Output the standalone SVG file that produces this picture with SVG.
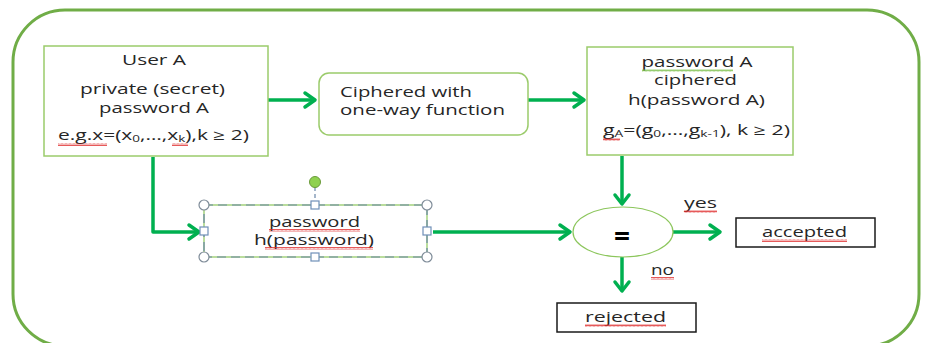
<svg xmlns="http://www.w3.org/2000/svg" width="928" height="343" viewBox="0 0 928 343">
<style>
text{font-family:"Open Sans","Liberation Sans",sans-serif;font-size:14px;fill:#262626}
.c{text-anchor:middle}
.box{fill:#fff;stroke:#9bcb6b;stroke-width:1.5}
.bk{fill:#fff;stroke:#1a1a1a;stroke-width:1.5}
.ar{fill:none;stroke:#00b050;stroke-width:3.5;stroke-linejoin:round}
.hd{fill:none;stroke:#00b050;stroke-width:3.5;stroke-linecap:round;stroke-linejoin:round}
.hc{fill:#fff;stroke:#7f8c99;stroke-width:1.2}
.hs{fill:#fff;stroke:#6f8fb8;stroke-width:1.2}
.sq{fill:url(#wr)}
.sg{fill:url(#wg)}
</style>
<defs>
<pattern id="wr" width="4" height="3" patternUnits="userSpaceOnUse"><path d="M0 2.5 L1 0.5 L2 2.5 L3 0.5 L4 2.5" fill="none" stroke="#e03030" stroke-width="0.8"/></pattern>
<pattern id="wg" width="4" height="3" patternUnits="userSpaceOnUse"><path d="M0 2.5 L1 0.5 L2 2.5 L3 0.5 L4 2.5" fill="none" stroke="#7cc04b" stroke-width="0.8"/></pattern>
</defs>
<rect x="0" y="0" width="928" height="343" fill="#fff"/>
<rect id="frame" x="13" y="10" width="906" height="336" rx="52" ry="52" fill="none" stroke="#70ad47" stroke-width="3"/>

<g id="connectors">
<path class="ar" d="M268 100 L314 100"/><path class="hd" d="M305 93 L315 100 L305 107"/>
<path class="ar" d="M528 100 L583 100"/><path class="hd" d="M574 93 L584 100 L574 107"/>
<path class="ar" d="M622 156 L622 203"/><path class="hd" d="M615 195 L622 204 L629 195"/>
<path class="ar" d="M153 157 L153 232 L198 232"/><path class="hd" d="M189 225 L199 232 L189 239"/>
<path class="ar" d="M433 232 L569 232"/><path class="hd" d="M560 225 L570 232 L560 239"/>
<path class="ar" d="M673 232 L719 232"/><path class="hd" d="M710 225 L720 232 L710 239"/>
<path class="ar" d="M622 257 L622 290"/><path class="hd" d="M615 282 L622 291 L629 282"/>
<text x="700.5" y="208" class="c" textLength="33" lengthAdjust="spacingAndGlyphs">yes</text><rect class="sq" x="684" y="210" width="33" height="3"/>
<text x="662.5" y="275" class="c" textLength="23" lengthAdjust="spacingAndGlyphs">no</text><rect class="sq" x="651" y="277" width="23" height="3"/>
</g>

<g id="userA">
<rect class="box" x="44" y="46" width="224" height="110"/>
<text x="154" y="65" class="c" textLength="64" lengthAdjust="spacingAndGlyphs">User A</text>
<text x="152.5" y="94" class="c" textLength="145" lengthAdjust="spacingAndGlyphs">private (secret)</text>
<text x="154" y="113" class="c" textLength="110" lengthAdjust="spacingAndGlyphs">password A</text>
<text x="153.5" y="140" class="c" textLength="191" lengthAdjust="spacingAndGlyphs">e.g.x=(x<tspan font-size="9" dy="2">0</tspan><tspan dy="-2">,…,x</tspan><tspan font-size="9" dy="2">k</tspan><tspan dy="-2">),k ≥ 2)</tspan></text>
<rect class="sq" x="58" y="143" width="49" height="3"/>
<rect class="sq" x="172" y="143" width="16" height="3"/>
</g>

<g id="cipher">
<rect class="box" x="319" y="73" width="209" height="62" rx="10"/>
<text x="340" y="97" textLength="132" lengthAdjust="spacingAndGlyphs">Ciphered with</text>
<text x="340" y="115" textLength="165" lengthAdjust="spacingAndGlyphs">one-way function</text>
</g>

<g id="passwordA">
<rect class="box" x="587" y="47" width="206" height="108"/>
<text x="697" y="67" class="c" textLength="111" lengthAdjust="spacingAndGlyphs">password A</text>
<rect class="sg" x="642" y="69" width="91" height="3"/>
<text x="695.5" y="85" class="c" textLength="83" lengthAdjust="spacingAndGlyphs">ciphered</text>
<text x="696.5" y="105" class="c" textLength="137" lengthAdjust="spacingAndGlyphs">h(password A)</text>
<text x="696.5" y="135" class="c" textLength="187" lengthAdjust="spacingAndGlyphs">g<tspan font-size="9" dy="2">A</tspan><tspan dy="-2">=(g</tspan><tspan font-size="9" dy="2">0</tspan><tspan dy="-2">,…,g</tspan><tspan font-size="9" dy="2">k-1</tspan><tspan dy="-2">), k ≥ 2)</tspan></text>
<rect class="sq" x="603" y="138" width="17" height="3"/>
</g>

<g id="password">
<rect x="204" y="205" width="223" height="52" fill="#fff" stroke="#8cc65c" stroke-width="1.2"/>
<rect x="204" y="205" width="223" height="52" fill="none" stroke="#6a86a8" stroke-width="1.2" stroke-dasharray="9,5"/>
<line x1="315" y1="187" x2="315" y2="201" stroke="#6a86a8" stroke-width="1.2" stroke-dasharray="4,3"/>
<circle cx="315" cy="182" r="5.5" fill="#8fd14f" stroke="#6a9a3a" stroke-width="1"/>
<circle class="hc" cx="204" cy="205" r="5"/><circle class="hc" cx="427" cy="205" r="5"/>
<circle class="hc" cx="204" cy="257" r="5"/><circle class="hc" cx="427" cy="257" r="5"/>
<rect class="hs" x="311" y="201" width="8" height="8"/><rect class="hs" x="311" y="253" width="8" height="8"/>
<rect class="hs" x="200" y="227" width="8" height="8"/><rect class="hs" x="423" y="227" width="8" height="8"/>
<text x="314.5" y="227" class="c" textLength="91" lengthAdjust="spacingAndGlyphs">password</text>
<rect class="sq" x="269" y="229" width="91" height="3"/>
<text x="314" y="245" class="c" textLength="120" lengthAdjust="spacingAndGlyphs">h(password)</text>
<rect class="sq" x="265" y="247" width="108" height="3"/>
</g>

<g id="compare">
<ellipse cx="623" cy="232" rx="50" ry="25" fill="#fff" stroke="#8cc65c" stroke-width="1.2"/>
<text x="622" y="246" class="c" style="font-size:28px;font-weight:bold;fill:#000">=</text>
</g>

<g id="accepted">
<rect class="bk" x="736" y="218" width="139" height="29"/>
<text x="804.5" y="237" class="c" textLength="85" lengthAdjust="spacingAndGlyphs">accepted</text>
<rect class="sq" x="762" y="239" width="85" height="3"/>
</g>

<g id="rejected">
<rect class="bk" x="557" y="303" width="139" height="29"/>
<text x="625.5" y="322" class="c" textLength="81" lengthAdjust="spacingAndGlyphs">rejected</text>
<rect class="sq" x="585" y="324" width="81" height="3"/>
</g>
</svg>
